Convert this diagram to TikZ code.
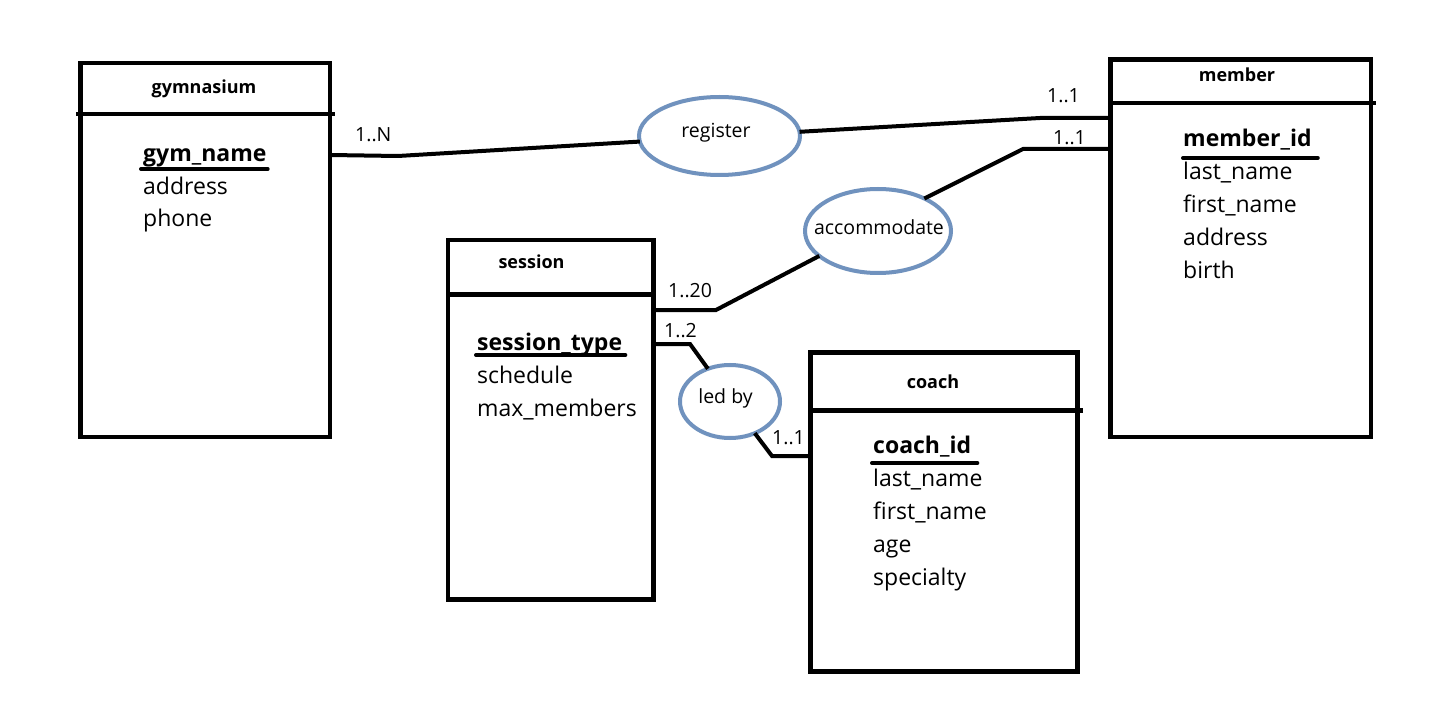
\documentclass[tikz,border=0pt]{standalone}
\usepackage{fontspec}
\setmainfont{Open Sans}
\usetikzlibrary{shapes.geometric}
\definecolor{relblue}{RGB}{112,146,190}
\newcommand{\reltxt}[3]{\makebox[0pt]{\hspace*{#1}\raisebox{#2}[0pt][0pt]{#3}}}
\begin{document}
\begin{tikzpicture}[x=1pt,y=-1pt,
 box/.style={draw,line width=4.5pt,rectangle,inner sep=0pt,outer sep=0pt,anchor=north west},
 divider/.style={line width=4.5pt},
 conn/.style={line width=4pt},
 rel/.style={draw=relblue,line width=4pt,ellipse,inner sep=0pt,outer sep=0pt,font=\fontsize{19.5}{22}\selectfont},
 ttl/.style={anchor=base,inner sep=0pt,font=\fontsize{18}{20}\selectfont\bfseries},
 attr/.style={anchor=base west,inner sep=0pt,font=\fontsize{23}{28}\selectfont},
 keyattr/.style={anchor=base west,inner sep=0pt,font=\fontsize{23}{28}\selectfont\bfseries},
 card/.style={anchor=base west,inner sep=0pt,font=\fontsize{19.5}{22}\selectfont},
 uline/.style={line width=4pt,line cap=round}]
\useasboundingbox[fill=white] (0,0) rectangle (1448,711);

% entity boxes
\node[box,minimum width=249.5pt,minimum height=374pt] (gym) at (80.5,63) {};
\node[box,minimum width=260.5pt,minimum height=377.5pt] (member) at (1110.5,59.5) {};
\node[box,minimum width=205.5pt,minimum height=359.5pt] (sess) at (448,240) {};
\node[box,minimum width=267pt,minimum height=319pt] (coach) at (810.5,352.5) {};

% dividers
\draw[divider] ([xshift=-4.5pt,yshift=-51pt]gym.north west) -- ([xshift=5pt,yshift=-51pt]gym.north east);
\draw[divider] ([yshift=-43.5pt]member.north west) -- ([xshift=5pt,yshift=-43.5pt]member.north east);
\draw[divider] ([yshift=-54.5pt]sess.north west) -- ([yshift=-54.5pt]sess.north east);
\draw[divider] ([yshift=-58pt]coach.north west) -- ([xshift=5.5pt,yshift=-58pt]coach.north east);

% titles
\node[ttl] (gymt) at (204,94) {gymnasium};
\node[ttl] (membert) at (1237,82) {member};
\node[ttl] (sesst) at (531.5,269) {session};
\node[ttl] (coacht) at (933,388) {coach};

% gymnasium attributes
\node[keyattr] (g1) at (143,162) {gym\_name};
\node[attr] (g2) at (143,194.5) {address};
\node[attr] (g3) at (143,227) {phone};
\draw[uline] ([xshift=-2pt,yshift=-7pt]g1.base west) -- ([xshift=1pt,yshift=-7pt]g1.base east);

% member attributes
\node[keyattr] (m1) at (1183,147) {member\_id};
\node[attr] (m2) at (1183,180) {last\_name};
\node[attr] (m3) at (1183,213) {first\_name};
\node[attr] (m4) at (1183,246) {address};
\node[attr] (m5) at (1183,279) {birth};
\draw[uline] ([yshift=-11pt]m1.base west) -- ([xshift=6pt,yshift=-11pt]m1.base east);

% session attributes
\node[keyattr] (s1) at (477,350) {session\_type};
\node[attr] (s2) at (477,383) {schedule};
\node[attr] (s3) at (477,416) {max\_members};
\draw[uline] ([xshift=-1pt,yshift=-5pt]s1.base west) -- ([xshift=3pt,yshift=-5pt]s1.base east);

% coach attributes
\node[keyattr] (c1) at (873,453) {coach\_id};
\node[attr] (c2) at (873,486) {last\_name};
\node[attr] (c3) at (873,519) {first\_name};
\node[attr] (c4) at (873,552) {age};
\node[attr] (c5) at (873,585) {specialty};
\draw[uline] ([xshift=-1pt,yshift=-10pt]c1.base west) -- ([xshift=6pt,yshift=-10pt]c1.base east);

% relationships
\node[rel,minimum width=161pt,minimum height=78pt] (register) at (719.5,136) {\reltxt{-7pt}{-2pt}{register}};
\node[rel,minimum width=146pt,minimum height=84pt] (accom) at (878,231) {\reltxt{2pt}{-4pt}{accommodate}};
\node[rel,minimum width=100pt,minimum height=73pt] (ledby) at (730,401.5) {\reltxt{-9pt}{-1.5pt}{led by}};

% connectors
\draw[conn] ([yshift=-92pt]gym.north east) -- (398,156) -- (register.184);
\draw[conn] (register.3) -- (1040,118) -- ([yshift=-58.5pt]member.north west);
\draw[conn] ([yshift=-89.5pt]member.north west) -- (1023,149) -- (accom.35);
\draw[conn] ([yshift=-70pt]sess.north east) -- (716,310) -- (accom.203);
\draw[conn] ([yshift=-104pt]sess.north east) -- (690,344) -- (ledby.124);
\draw[conn] (ledby.308) -- (772,456) -- ([yshift=-103.5pt]coach.north west);

% cardinalities
\node[card] (k1) at (355,142) {1..N};
\node[card] (k2) at (1047,102.5) {1..1};
\node[card] (k3) at (1053,145) {1..1};
\node[card] (k4) at (668,298) {1..20};
\node[card] (k5) at (664,337) {1..2};
\node[card] (k6) at (772,444) {1..1};
\end{tikzpicture}
\end{document}
